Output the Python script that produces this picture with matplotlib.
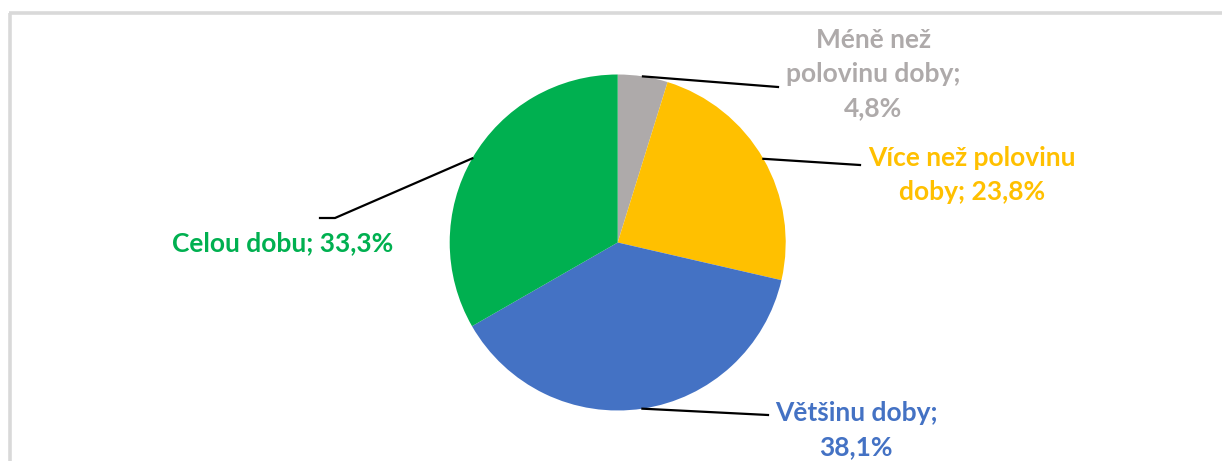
import matplotlib
matplotlib.use("Agg")
import matplotlib.pyplot as plt
import numpy as np

# slices in clockwise order from 12 o'clock
categories = ["Méně než polovinu doby", "Více než polovinu doby", "Většinu doby", "Celou dobu"]
shares = [4.8, 23.8, 38.1, 33.3]
colors = ["#AEAAAA", "#FFC000", "#4472C4", "#00B050"]
text_lines = [
    "Méně než\npolovinu doby;\n4,8%",
    "Více než polovinu\ndoby; 23,8%",
    "Většinu doby;\n38,1%",
    "Celou dobu; 33,3%",
]

W, H = 1222, 461

fig = plt.figure(figsize=(W / 100, H / 100), dpi=100)
ax = fig.add_axes([0, 0, 1, 1])


def py(y):
    # pixel row (from top) -> data y
    return H - y


cx, cy, r = 617.7, py(242.5), 168
wedges, _ = ax.pie(shares, colors=colors, startangle=90, counterclock=False,
                   center=(cx, cy), radius=r, frame=True)
ax.set_xlim(0, W)
ax.set_ylim(0, H)
ax.set_aspect("equal")
ax.axis("off")

# chart-area frame (only top and left edge visible in the crop)
ax.plot([9, W], [py(13), py(13)], color="#D9D9D9", lw=2.6, solid_capstyle="butt")
ax.plot([10, 10], [py(13), 0], color="#D9D9D9", lw=2.6, solid_capstyle="butt")

# label placement (pixel coords from top): elbow points and text centres
elbows = [[(778, 87)], [(860, 165)], [(768, 415)], [(335, 218), (320, 218)]]
text_pos = [(873, 74), (972, 175), (856, 430), (283, 243)]

for w, pts, (tx, ty), txt, c in zip(wedges, elbows, text_pos, text_lines, colors):
    mid = np.deg2rad((w.theta1 + w.theta2) / 2)
    ax_ = cx + r * np.cos(mid)
    ay_ = cy + r * np.sin(mid)
    xs = [ax_] + [p[0] for p in pts]
    ys = [ay_] + [py(p[1]) for p in pts]
    ax.plot(xs, ys, color="black", lw=1.6)
    ax.text(tx, py(ty), txt, color=c, fontsize=19, fontweight="bold",
            family="Lato", ha="center", va="center", linespacing=1.5)

plt.savefig("out.png", dpi=100)
